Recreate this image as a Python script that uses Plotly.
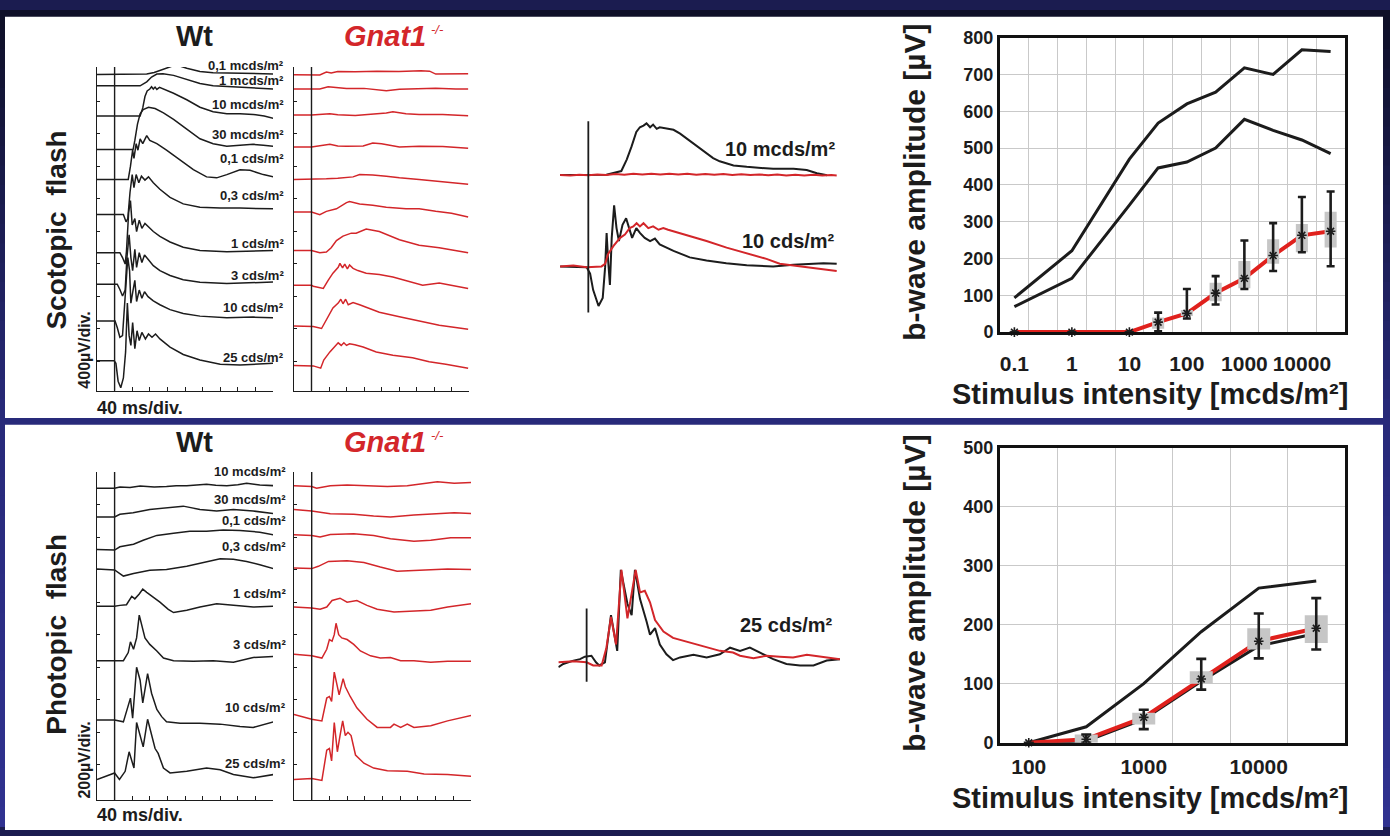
import plotly.graph_objects as go

W, H = 1390, 836
FONT = "Liberation Sans, Arial, Helvetica, sans-serif"
INK = "#1c1c1c"
RED = "#d3262a"
RED_LINE = "#e0211d"
GRID = "#c9c9c9"
BOX = "#c6c6c6"

# ---------------- ERG recordings: (time after flash [ms], amplitude [µV]) ----------------
SCOT_LABELS = ["0,1 mcds/m²", "1 mcds/m²", "10 mcds/m²", "30 mcds/m²", "0,1 cds/m²",
               "0,3 cds/m²", "1 cds/m²", "3 cds/m²", "10 cds/m²", "25 cds/m²"]
PHOT_LABELS = ["10 mcds/m²", "30 mcds/m²", "0,1 cds/m²", "0,3 cds/m²",
               "1 cds/m²", "3 cds/m²", "10 cds/m²", "25 cds/m²"]

SCOT_WT = [
    [(-40, 0), (0, 0), (20, -3), (40, 2), (55, 3), (73, 4), (90, 24), (103, 48), (118, 84), (130, 100),
     (137, 108), (150, 100), (164, 76), (180, 52), (194, 36), (224, 20), (270, 18), (315, 12), (361, 6)],
    [(-40, 0), (0, 0), (30, 3), (58, 0), (73, 48), (84, 108), (96, 144), (110, 148), (134, 128),
     (164, 80), (194, 28), (224, 0), (270, -16), (315, -24), (361, -40)],
    [(-40, 0), (0, 0), (30, -3), (58, 0), (64, 100), (69, 240), (74, 308), (80, 332), (84, 360), (88, 332),
     (92, 356), (96, 328), (102, 352), (111, 332), (134, 280), (164, 200), (194, 108), (224, 52),
     (255, 28), (285, 28), (315, 20), (340, 0), (361, -28)],
    [(-40, 0), (0, 0), (25, 4), (42, 0), (46, 112), (52, 312), (58, 440), (65, 492), (77, 520), (92, 504),
     (111, 452), (134, 372), (164, 252), (194, 132), (224, 72), (255, 40), (285, 52), (315, 64),
     (338, 52), (361, 40)],
    [(-40, 0), (0, 0), (20, 2), (31, 0), (36, 160), (41, 360), (44, 260), (49, 440), (53, 360), (58, 500),
     (64, 440), (73, 540), (80, 480), (96, 440), (118, 360), (149, 240), (179, 120), (209, 32),
     (232, 20), (255, 60), (285, 120), (308, 112), (338, 60), (361, 32)],
    [(-40, 0), (0, 0), (20, 0), (26, -88), (30, -48), (35, 272), (40, 492), (44, 332), (49, 492),
     (55, 392), (61, 472), (69, 424), (77, 464), (88, 392), (103, 312), (126, 212), (156, 132),
     (194, 92), (240, 80), (285, 80), (361, 72)],
    [(-40, 0), (0, 0), (12, 0), (18, -60), (24, -140), (27, 20), (32, 500), (36, 640), (40, 340),
     (46, 420), (50, 260), (56, 400), (62, 300), (69, 360), (77, 320), (88, 260), (103, 200),
     (126, 132), (156, 68), (194, 28), (255, 12), (315, 20), (361, 28)],
    [(-40, 0), (0, 0), (6, 0), (12, -64), (18, -144), (24, -72), (28, 328), (33, 608), (37, 328),
     (41, 168), (46, 428), (50, 208), (56, 388), (62, 268), (68, 360), (76, 308), (88, 228),
     (103, 168), (126, 108), (156, 56), (194, 24), (255, 8), (315, 16), (361, 28)],
    [(-40, 0), (0, 0), (1, 0), (6, -80), (12, -200), (18, -180), (24, 300), (30, 780), (34, 620),
     (37, 220), (42, 380), (46, 500), (50, 240), (56, 380), (62, 280), (68, 360), (76, 300),
     (88, 248), (103, 200), (126, 140), (156, 92), (194, 60), (255, 40), (315, 48), (361, 40)],
    [(-40, 0), (-1, 0), (3, -32), (8, -252), (14, -332), (20, -212), (25, 108), (29, 708), (33, 308),
     (37, 188), (41, 468), (46, 148), (51, 368), (56, 248), (62, 348), (70, 268), (77, 328),
     (85, 288), (93, 328), (103, 268), (126, 168), (156, 76), (194, 8), (240, -44), (285, -52),
     (330, -44), (361, -32)],
]

SCOT_KO = [
    [(-40, 0), (0, 0), (19, -4), (34, 32), (45, 20), (60, 40), (100, 36), (150, 44), (200, 40),
     (250, 48), (270, 44), (284, 8), (300, 8), (330, 12), (358, 12)],
    [(-40, 0), (0, 0), (19, 0), (38, 28), (60, 16), (80, 8), (120, 8), (155, -8), (171, -20),
     (201, -4), (231, 0), (284, 8), (330, 0), (358, 0)],
    [(-40, 0), (0, 0), (42, 16), (60, 4), (100, -4), (140, 8), (171, 24), (186, 40), (216, 16),
     (246, 8), (300, 8), (358, -8)],
    [(-40, 0), (0, 0), (42, 32), (60, 12), (80, 8), (118, 12), (140, 48), (160, 40), (201, 0),
     (246, 8), (300, 4), (358, -16)],
    [(-40, 0), (0, 0), (34, 8), (60, 16), (95, 32), (110, 60), (140, 56), (171, 40), (201, 20),
     (246, 0), (300, -32), (358, -60)],
    [(-40, 0), (0, 0), (19, -32), (34, 8), (57, 40), (80, 116), (87, 128), (110, 100), (140, 84),
     (171, 60), (216, 40), (246, 40), (284, 8), (320, -16), (358, -60)],
    [(-40, 0), (0, 0), (19, -28), (34, -20), (45, 32), (57, 120), (72, 176), (80, 192), (91, 212),
     (102, 212), (125, 264), (155, 232), (201, 132), (246, 64), (292, 32), (358, -28)],
    [(-40, 0), (0, 0), (4, -12), (27, -40), (38, 60), (49, 148), (61, 220), (65, 268), (71, 212),
     (76, 260), (82, 200), (87, 248), (95, 208), (106, 180), (125, 148), (155, 132), (186, 100),
     (216, 60), (254, 0), (292, 28), (330, -12), (358, -40)],
    [(-40, 0), (0, 0), (4, -8), (23, -32), (34, 80), (49, 220), (61, 280), (67, 328), (72, 272),
     (78, 328), (84, 260), (95, 288), (110, 260), (133, 208), (155, 168), (201, 112), (246, 60),
     (292, 8), (358, -40)],
    [(-40, 0), (0, 0), (4, -4), (21, -32), (28, 68), (42, 168), (53, 228), (61, 280), (68, 248),
     (74, 280), (80, 248), (87, 268), (99, 256), (118, 228), (148, 168), (186, 128), (231, 96),
     (269, 48), (307, 16), (358, -32)],
]

PHOT_WT = [
    [(-40, 0), (0, 0), (12, 8), (35, 4), (58, 14), (90, 8), (118, 10), (140, 16), (164, 16), (190, 20),
     (209, 24), (230, 18), (255, 16), (280, 22), (300, 30), (330, 20), (361, 16)],
    [(-40, 0), (0, 0), (12, 16), (42, 26), (80, 46), (118, 56), (156, 66), (194, 46), (232, 36),
     (270, 46), (315, 36), (361, 20)],
    [(-40, 0), (0, -4), (12, 16), (43, 32), (65, 56), (96, 86), (134, 100), (171, 112), (209, 112),
     (247, 120), (285, 116), (330, 106), (361, 90)],
    [(-40, 0), (0, -6), (20, -44), (43, -28), (80, -8), (118, -4), (164, 16), (209, 46), (240, 62),
     (270, 60), (300, 46), (330, 26), (361, 2)],
    [(-40, 0), (0, 0), (12, 6), (27, 10), (39, 62), (46, 46), (56, 76), (64, 106), (73, 86), (88, 56),
     (103, 26), (122, -18), (134, -38), (164, -24), (194, -4), (232, 16), (270, 6), (315, -4), (361, 0)],
    [(-40, 0), (0, 0), (20, 0), (31, 50), (36, 116), (43, 70), (50, 140), (56, 280), (61, 220),
     (69, 140), (80, 100), (96, 60), (111, 16), (134, 0), (179, -4), (224, 0), (270, -10),
     (315, 20), (361, 26)],
    [(-40, 0), (0, 0), (20, -12), (31, 94), (36, 134), (41, 10), (50, 324), (58, 244), (64, 104),
     (75, 284), (84, 164), (96, 64), (107, 20), (118, -12), (149, -20), (194, -20), (240, -26),
     (285, -40), (315, -46), (361, -12)],
    [(-40, 0), (-18, 20), (0, 40), (11, 0), (24, 50), (33, 170), (39, 110), (44, 70), (50, 350),
     (58, 270), (65, 200), (75, 370), (84, 270), (92, 190), (99, 160), (111, 70), (126, 40),
     (164, 50), (209, 70), (240, 60), (270, 30), (315, 10), (361, 30)],
]

PHOT_KO = [
    [(-40, 0), (0, -6), (11, -16), (42, 0), (80, 4), (125, 0), (171, -6), (216, 0), (261, 14),
     (284, 24), (322, 14), (361, 20)],
    [(-40, 0), (0, -10), (42, -26), (95, -30), (140, -40), (178, -46), (231, -34), (277, -26),
     (322, -20), (361, -26)],
    [(-40, 0), (0, -4), (19, -14), (42, 2), (95, 6), (140, -4), (178, -24), (231, -40), (269, -34),
     (314, -18), (361, -18)],
    [(-40, 0), (0, -4), (15, 10), (38, 40), (80, 44), (118, 34), (155, 6), (193, -20), (231, -16),
     (269, -10), (307, -6), (361, -10)],
    [(-40, 0), (0, -6), (19, -14), (34, 0), (46, 40), (64, 54), (80, 30), (102, 40), (125, 10),
     (148, -14), (186, -30), (231, -26), (269, -20), (307, 0), (337, 10), (361, 20)],
    [(-40, 4), (0, -6), (23, -20), (34, 34), (40, 94), (46, 84), (51, 124), (55, 194), (61, 124),
     (68, 104), (80, 94), (95, 64), (110, 24), (133, -6), (155, -20), (178, -16), (201, -36),
     (231, -36), (269, -46), (307, -40), (361, -40)],
    [(-40, 10), (0, -20), (23, -30), (34, 110), (40, 120), (45, 90), (51, 270), (57, 180), (62, 130),
     (71, 230), (76, 180), (87, 120), (102, 50), (125, -20), (148, -70), (178, -70), (186, -50),
     (201, -70), (216, -50), (231, -70), (269, -60), (307, -30), (337, -10), (361, 4)],
    [(-40, 0), (0, 6), (23, -6), (34, 180), (40, 190), (45, 114), (51, 350), (58, 170), (64, 270),
     (70, 360), (76, 270), (82, 290), (89, 270), (99, 150), (118, 100), (140, 70), (171, 54),
     (216, 50), (254, 34), (307, 30), (361, 20)],
]

# overlays of Wt (black) and Gnat1-/- (red) responses
MID_SCOT_WT_DIM = [(-47, 0), (0, 0), (30, 2), (55, 28), (64, 110), (72, 203), (80, 308), (86, 342),
                   (92, 354), (97, 370), (103, 342), (108, 361), (114, 331), (119, 342), (130, 331),
                   (142, 324), (153, 296), (164, 261), (175, 226), (186, 191), (197, 156), (208, 121),
                   (219, 98), (230, 82), (242, 68), (264, 58), (286, 51), (308, 44), (342, 44),
                   (364, 35), (381, 12), (398, -2)]
MID_SCOT_KO_DIM = [(-47, 0), (-30, -4), (-15, 2), (0, -2), (15, 4), (30, 0), (45, 6), (60, 2), (75, 8),
                   (90, 4), (105, 9), (120, 4), (135, 9), (150, 3), (165, 8), (180, 2), (195, 7),
                   (210, 1), (225, 6), (240, 0), (255, 5), (270, -1), (285, 4), (300, -2), (315, 3),
                   (330, -3), (345, 2), (360, -4), (375, 1), (390, -4), (405, 0), (414, -3)]
MID_SCOT_WT_BRIGHT = [(-47, 0), (-3, -5), (3, -51), (8, -168), (17, -284), (24, -226), (28, -5),
                      (30.5, 240), (33, 42), (36, -133), (39, 205), (43, 438), (47, 275), (51, 182),
                      (57, 298), (63, 345), (68, 275), (73, 205), (80, 275), (86, 240), (94, 205),
                      (103, 182), (111, 200), (119, 158), (142, 112), (169, 65), (197, 42), (230, 23),
                      (264, 9), (308, 0), (342, 12), (364, 19), (392, 23), (414, 19)]
MID_SCOT_KO_BRIGHT = [(-47, 0), (-25, 7), (-3, -5), (22, 0), (28, 19), (33, 89), (42, 147), (53, 205),
                      (61, 228), (69, 275), (75, 287), (80.5, 310), (86, 287), (92, 310), (100, 275),
                      (108, 287), (117, 263), (125, 275), (133, 263), (142, 252), (169, 217),
                      (197, 182), (230.5, 135), (264, 93), (297, 54), (319, 19), (342, 7), (364, -5),
                      (392, -23), (414, -33)]
MID_PHOT_WT = [(-47, -20), (-39, -7), (-22, 7), (-11, 13), (-3, 23), (8, 27), (15.6, 0), (21, -13),
               (30.5, 0), (40.6, 193), (51, 47), (57, 379), (68, 240), (75, 193), (80.5, 379), (89, 259),
               (100, 166), (105.6, 113), (114, 140), (122, 73), (133, 33), (144, 9), (155.6, 20),
               (178, 31), (200, 20), (222, 33), (239, 60), (255.6, 47), (272, 60), (289, 40),
               (311, 13), (333, -7), (355.6, -13), (378, -13), (400, 7), (422, 13)]
MID_PHOT_KO = [(-47, 0), (-22, 4), (0, 0), (11, -13), (25, -13), (33, 60), (40.6, 186), (49, 73),
               (58, 379), (68, 180), (81.7, 379), (89, 286), (97, 293), (105.6, 246), (114, 173),
               (128, 126), (144, 100), (172, 80), (200, 60), (222, 47), (244, 40), (255.6, 27),
               (278, 17), (300, 27), (322, 23), (344, 20), (367, 31), (394, 23), (422, 13)]

# ---------------- b-wave amplitudes [µV] ----------------
SCOT_CATS = ["0.1", "0.3", "1", "3", "10", "30", "100", "300", "1000", "3000", "10000", "25000"]
SCOT_WT_HIGH = [93, None, 221, None, 470, 568, 620, 652, 718, 700, 767, 762]
SCOT_WT_LOW = [69, None, 146, None, 345, 446, 462, 500, 578, 548, 522, 485]
SCOT_KO_MEAN = [0, None, 0, None, 0, 27, 51, 106, 146, 208, 263, 274]
SCOT_KO_MAX = [None, None, None, None, None, 53, 117, 152, 249, 296, 367, 382]
SCOT_KO_MIN = [None, None, None, None, None, 2, 37, 75, 117, 166, 217, 179]
SCOT_KO_Q1 = [None, None, None, None, None, 9, 44, 84, 119, 186, 217, 230]
SCOT_KO_Q3 = [None, None, None, None, None, 40, 60, 134, 193, 252, 294, 327]

PHOT_CATS = ["100", "300", "1000", "3000", "10000", "25000"]
PHOT_WT_HIGH = [0, 27, 100, 188, 262, 274]
PHOT_WT_LOW = [0, 3, 40, 104, 164, 185]
PHOT_KO_MEAN = [0, 6, 43, 108, 172, 194]
PHOT_KO_MAX = [None, 14, 56, 142, 219, 245]
PHOT_KO_MIN = [None, 0, 23, 90, 143, 158]
PHOT_KO_Q1 = [None, 0, 31, 100, 158, 169]
PHOT_KO_Q3 = [None, 14, 51, 121, 194, 216]

# ---------------- layout geometry (pixels) ----------------
SCOT_WT_BASE = [-92, -232, -604, -1016, -1384, -1816, -2284, -2672, -3124, -3612]
SCOT_KO_BASE = [-96, -272, -592, -984, -1384, -1784, -2256, -2684, -3184, -3672]
PHOT_WT_BASE = [-100, -276, -476, -596, -826, -1160, -1524, -1890]
PHOT_KO_BASE = [-84, -230, -386, -590, -830, -1124, -1500, -1890]
SCOT_LABEL_Y = [57, 72.7, 96.7, 127.7, 151.7, 190, 239.3, 271.7, 305, 356]
PHOT_LABEL_Y = [473.3, 501.7, 523.3, 550, 598.3, 650, 715, 771.7]


def fx(px):
    return px / W


def fy(py):
    return 1 - py / H


fig = go.Figure()


def add_line(points, xa, ya, color, width, base=0.0):
    fig.add_trace(go.Scatter(
        x=[p[0] for p in points], y=[base + p[1] for p in points], mode="lines",
        line=dict(color=color, width=width), xaxis=xa, yaxis=ya,
        hoverinfo="skip", showlegend=False))


for pts, b in zip(SCOT_WT, SCOT_WT_BASE):
    add_line(pts, "x", "y", INK, 1.5, b)
for pts, b in zip(SCOT_KO, SCOT_KO_BASE):
    add_line(pts, "x2", "y2", RED, 1.5, b)
for pts, b in zip(PHOT_WT, PHOT_WT_BASE):
    add_line(pts, "x3", "y3", INK, 1.5, b)
for pts, b in zip(PHOT_KO, PHOT_KO_BASE):
    add_line(pts, "x4", "y4", RED, 1.5, b)

MID_LOWER = -656
add_line(MID_SCOT_WT_DIM, "x5", "y5", INK, 2)
add_line(MID_SCOT_KO_DIM, "x5", "y5", RED, 2)
add_line(MID_SCOT_WT_BRIGHT, "x5", "y5", INK, 2, MID_LOWER)
add_line(MID_SCOT_KO_BRIGHT, "x5", "y5", RED, 2, MID_LOWER)
add_line(MID_PHOT_WT, "x6", "y6", INK, 2)
add_line(MID_PHOT_KO, "x6", "y6", RED, 2)


def add_bwave(cats, hi, lo, mean, vmax, vmin, q1, q3, xa, ya, half, cap):
    idx = list(range(len(cats)))
    for series in (hi, lo):
        fig.add_trace(go.Scatter(x=idx, y=series, mode="lines", connectgaps=True,
                                 line=dict(color=INK, width=3), xaxis=xa, yaxis=ya,
                                 hoverinfo="skip", showlegend=False))
    fig.add_trace(go.Scatter(x=idx, y=mean, mode="lines", connectgaps=True,
                             line=dict(color=RED_LINE, width=4), xaxis=xa, yaxis=ya,
                             hoverinfo="skip", showlegend=False))
    bx, by = [], []
    for i, a, b in zip(idx, q1, q3):
        if a is None:
            continue
        bx += [i - half, i + half, i + half, i - half, i - half, None]
        by += [a, a, b, b, a, None]
    fig.add_trace(go.Scatter(x=bx, y=by, mode="lines", fill="toself", fillcolor=BOX,
                             line=dict(width=0, color=BOX), xaxis=xa, yaxis=ya,
                             hoverinfo="skip", showlegend=False))
    up = [None if v is None else v - m for v, m in zip(vmax, mean)]
    dn = [None if v is None else m - v for v, m in zip(vmin, mean)]
    ex = [i for i, m in zip(idx, mean) if m is not None]
    ey = [m for m in mean if m is not None]
    eu = [u if u is not None else 0 for u, m in zip(up, mean) if m is not None]
    ed = [d if d is not None else 0 for d, m in zip(dn, mean) if m is not None]
    fig.add_trace(go.Scatter(
        x=ex, y=ey, mode="markers",
        marker=dict(symbol="asterisk-open", size=8, color=INK, line=dict(width=1.6, color=INK)),
        error_y=dict(type="data", symmetric=False, array=eu, arrayminus=ed,
                     color=INK, thickness=2.6, width=cap),
        xaxis=xa, yaxis=ya, hoverinfo="skip", showlegend=False, cliponaxis=False))


add_bwave(SCOT_CATS, SCOT_WT_HIGH, SCOT_WT_LOW, SCOT_KO_MEAN, SCOT_KO_MAX, SCOT_KO_MIN,
          SCOT_KO_Q1, SCOT_KO_Q3, "x7", "y7", 0.21, 4)
add_bwave(PHOT_CATS, PHOT_WT_HIGH, PHOT_WT_LOW, PHOT_KO_MEAN, PHOT_KO_MAX, PHOT_KO_MIN,
          PHOT_KO_Q1, PHOT_KO_Q3, "x8", "y8", 0.2, 5)

# ---------------- axes ----------------
TIME_TICKS = [-40, 0, 40, 80, 120, 160, 200, 240, 280, 320, 360]


def erg_x(px0, px1, anchor):
    return dict(domain=[fx(px0), fx(px1)], range=[-40, 360], anchor=anchor,
                showline=True, linecolor=INK, linewidth=1.3, ticks="inside", ticklen=4,
                tickwidth=1, tickcolor=INK, tickmode="array", tickvals=TIME_TICKS,
                showticklabels=False, showgrid=False, zeroline=False, fixedrange=True)


def erg_y(py_top, py_bot, uv_per_px, tickvals, anchor):
    return dict(domain=[fy(py_bot), fy(py_top)], range=[-(py_bot - py_top) * uv_per_px, 0],
                anchor=anchor, showline=True, linecolor=INK, linewidth=1.3, ticks="inside",
                ticklen=3, tickwidth=1, tickcolor=INK, tickmode="array", tickvals=tickvals,
                showticklabels=False, showgrid=False, zeroline=False, fixedrange=True)


def hidden(dom, rng, anchor, horizontal):
    d = [fx(dom[0]), fx(dom[1])] if horizontal else [fy(dom[1]), fy(dom[0])]
    return dict(domain=d, range=rng, anchor=anchor, visible=False, fixedrange=True)


SCOT_TICKS = [-420 - 400 * k for k in range(9)]
PHOT_TICKS = [-200 * (k + 1) for k in range(9)]


def bwave_x(cats, standoff, anchor):
    n = len(cats)
    return dict(domain=[fx(1000), fx(1345)], range=[-0.5, n - 0.5], anchor=anchor,
                tickmode="array", tickvals=list(range(0, n, 2)), ticktext=cats[0::2],
                ticks="", showgrid=False, zeroline=False, showline=True, mirror=True,
                linecolor="#111", linewidth=3, ticklabelstandoff=standoff,
                tickfont=dict(family=FONT, size=21, color=INK, weight="bold"),
                minor=dict(tickmode="array", tickvals=[i + 0.5 for i in range(n - 1)],
                           showgrid=True, gridcolor=GRID, gridwidth=1, ticks=""),
                fixedrange=True)


def bwave_y(px_top, px_bot, top, anchor):
    return dict(domain=[fy(px_bot), fy(px_top)], range=[0, top], dtick=100, tick0=0,
                anchor=anchor, ticks="", showgrid=True, gridcolor=GRID, gridwidth=1,
                zeroline=False, showline=True, mirror=True, linecolor="#111", linewidth=3,
                tickfont=dict(family=FONT, size=18, color=INK, weight="bold"),
                fixedrange=True)


fig.update_layout(
    width=W, height=H, margin=dict(l=0, r=0, t=0, b=0),
    paper_bgcolor="#1b1c50", plot_bgcolor="rgba(0,0,0,0)",
    font=dict(family=FONT, color=INK),
    showlegend=False,
    xaxis=erg_x(97, 273, "y"),
    yaxis=erg_y(58.3, 390, 12, SCOT_TICKS, "x"),
    xaxis2=erg_x(294, 469, "y2"),
    yaxis2=erg_y(58.3, 390, 12, SCOT_TICKS, "x2"),
    xaxis3=erg_x(97, 273, "y3"),
    yaxis3=erg_y(473.3, 809.3, 6, PHOT_TICKS, "x3"),
    xaxis4=erg_x(294, 471, "y4"),
    yaxis4=erg_y(473.3, 809.3, 6, PHOT_TICKS, "x4"),
    xaxis5=hidden((560, 837), [-47.2, 414.5], "y5", True),
    yaxis5=hidden((105, 320), [-1057, 448], "x5", False),
    xaxis6=hidden((558.3, 840), [-47.2, 422.2], "y6", True),
    yaxis6=hidden((560, 700), [-126.8, 433.2], "x6", False),
    xaxis7=bwave_x(SCOT_CATS, 11, "y7"),
    yaxis7=bwave_y(28.3, 330, 800, "x7"),
    xaxis8=bwave_x(PHOT_CATS, 3, "y8"),
    yaxis8=bwave_y(448.3, 750.7, 500, "x8"),
)

# ---------------- background and panels ----------------
shapes = []
N = 42
for i in range(N):
    f = i / (N - 1)
    if f < 0.5:
        g = f / 0.5
        c = (15 + (40 - 15) * g, 16 + (42 - 16) * g, 40 + (122 - 40) * g)
    else:
        g = (f - 0.5) / 0.5
        c = (40 + 8 * g, 42 + 8 * g, 122 + 22 * g)
    shapes.append(dict(type="rect", xref="paper", yref="paper", layer="below",
                       x0=0, x1=1, y0=fy((i + 1) * H / N + 1), y1=fy(i * H / N),
                       fillcolor="rgb(%d,%d,%d)" % c, line=dict(width=0)))
for y0, y1 in ((7, 418), (425, 840)):
    shapes.append(dict(type="rect", xref="paper", yref="paper", layer="below",
                       x0=fx(5), x1=fx(1383), y0=fy(y1), y1=fy(y0),
                       fillcolor="white", line=dict(width=0)))
# flash markers
for xa in ("x", "x2", "x3", "x4"):
    ya = "y" if xa == "x" else "y" + xa[1:]
    shapes.append(dict(type="line", xref=xa, yref=ya + " domain", x0=0, x1=0, y0=0, y1=1,
                       line=dict(color=INK, width=1.4)))
shapes.append(dict(type="line", xref="x5", yref="y5", x0=0, x1=0, y0=385, y1=-987,
                   line=dict(color=INK, width=1.8)))
shapes.append(dict(type="line", xref="x6", yref="y6", x0=0, x1=0, y0=220, y1=-80,
                   line=dict(color=INK, width=1.8)))
fig.update_layout(shapes=shapes)

# ---------------- text ----------------
ann = []


def text(x, y, s, size, color=INK, angle=0, xanchor="center", yanchor="middle"):
    ann.append(dict(x=fx(x), y=fy(y), xref="paper", yref="paper", text=s, showarrow=False,
                    textangle=angle, xanchor=xanchor, yanchor=yanchor, borderpad=0,
                    font=dict(family=FONT, size=size, color=color)))


for ytop in (27, 443):
    text(195, ytop, "<b>Wt</b>", 29)
    text(343, ytop, "<b><i>Gnat1</i></b>", 29, RED, xanchor="left")
    text(430, ytop - 7, "<i>-/-</i>", 13, RED, xanchor="left")

text(57, 226, "<b>Scotopic\u00a0\u00a0flash</b>", 28, angle=-90)
text(57, 640, "<b>Photopic\u00a0\u00a0flash</b>", 28, angle=-90)
text(85, 349, "<b>400µV/div.</b>", 16, angle=-90)
text(85, 769, "<b>200µV/div.</b>", 16, angle=-90)
text(96, 408, "<b>40 ms/div.</b>", 18, xanchor="left")
text(96, 825, "<b>40 ms/div.</b>", 18, xanchor="left")

for lab, y in zip(SCOT_LABELS, SCOT_LABEL_Y):
    text(285, y, "<b>%s</b>" % lab, 13, xanchor="right")
for lab, y in zip(PHOT_LABELS, PHOT_LABEL_Y):
    text(287, y, "<b>%s</b>" % lab, 13, xanchor="right")

text(836, 142, "<b>10 mcds/m²</b>", 20, xanchor="right")
text(836, 237, "<b>10 cds/m²</b>", 20, xanchor="right")
text(834, 630, "<b>25 cds/m²</b>", 20, xanchor="right")

for ymid, xlab in ((177, 393), (598, 807)):
    text(915, ymid, "<b>b-wave amplitude [µV]</b>", 30, angle=-90)
    text(1150, xlab, "<b>Stimulus intensity [mcds/m²]</b>", 29)

fig.update_layout(annotations=ann)

fig.write_html("out.html")
